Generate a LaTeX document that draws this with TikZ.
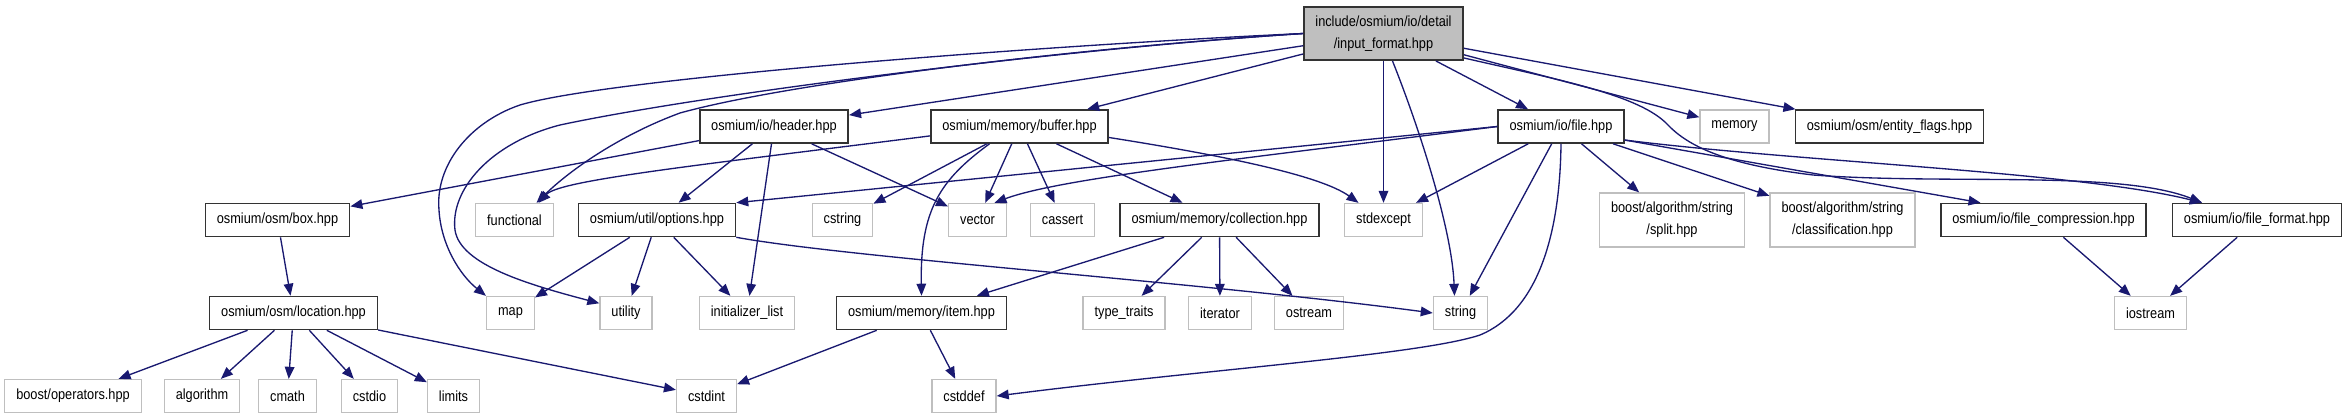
\documentclass[tikz,border=0pt]{standalone}
\usepackage{fontspec}
\newfontfamily\depfont{Liberation Sans}[FakeStretch=0.87]
\usetikzlibrary{arrows.meta,calc,positioning}
\definecolor{midnight}{HTML}{191970}
\definecolor{grey75}{HTML}{BFBFBF}

\begin{document}
\begin{tikzpicture}[->, >={Triangle[length=9pt,width=7.2pt]}, color=midnight, line width=1pt, x=0.75pt, y=-0.75pt]
\tikzstyle{hdr} = [draw=black!80, line width=1.2pt, fill=white, text=black, font=\depfont\fontsize{11pt}{16.25pt}\selectfont, minimum height=24.75pt, inner xsep=8.6pt, align=center]
\tikzstyle{sys} = [hdr, draw=grey75, line width=1pt]
\tikzstyle{mainfile} = [hdr, fill=grey75, minimum height=40pt]

\useasboundingbox (0,0) rectangle (2348,419);

\node [mainfile] (inputformat) at (1383.5,33.5) {include/osmium/io/detail\\/input\_format.hpp};

\node [hdr] (header) at (774,126.5) {osmium/io/header.hpp};
\draw (inputformat) -- (header);

\node [hdr] (buffer) at (1019.5,126.5) {osmium/memory/buffer.hpp};
\draw (inputformat) -- (buffer);

\node [hdr] (file) at (1561,126.5) {osmium/io/file.hpp};
\draw (inputformat) -- (file);

\node [sys] (memory) at (1734.5,126.5) {memory};
\draw (inputformat) -- (memory);

\node [hdr] (entityflags) at (1889.5,126.5) {osmium/osm/entity\_flags.hpp};
\draw (inputformat) -- (entityflags);

% second row
\node [hdr] (box) at (277.5,220) {osmium/osm/box.hpp};
\draw (header) -- (box);

\node [sys] (functional) at (514.5,220) {functional};
\draw (inputformat.west) .. controls (1050,50) and (780,85) .. (680,113) .. controls (620,135) and (570,170) .. ($(functional.north)+(22,0)$);
\draw (buffer.186) .. controls (700,165) and (560,180) .. ($(functional.north)+(24,0)$);

\node [hdr] (options) at (657,220) {osmium/util/options.hpp};
\draw (header) -- (options);
\draw (file.west) -- (options.north east);

\node [sys] (cstring) at (842.5,220) {cstring};
\draw (buffer) -- (cstring);

\node [sys] (vector) at (977.5,220) {vector};
\draw (header) -- (vector);
\draw (buffer) -- (vector);
\draw (file.west) .. controls (1250,158) and (1060,178) .. ($(vector.north)+(17,0)$);

\node [sys] (cassert) at (1062.5,220) {cassert};
\draw (buffer) -- (cassert);

\node [hdr] (collection) at (1219.5,220) {osmium/memory/collection.hpp};
\draw (buffer) -- (collection);

\node [sys] (stdexcept) at (1383.5,220) {stdexcept};
\draw (inputformat) -- (stdexcept);
\draw (buffer.-7) .. controls (1220,155) and (1320,175) .. ($(stdexcept.north)+(-25,0)$);
\draw (file) -- (stdexcept);

\node [sys, minimum height=40.5pt] (split) at (1672,220) {boost/algorithm/string\\/split.hpp};
\draw (file) -- (split);

\node [sys, minimum height=40.5pt] (classification) at (1842.5,220) {boost/algorithm/string\\/classification.hpp};
\draw (file) -- (classification);

\node [hdr] (filecompression) at (2043.5,220) {osmium/io/file\_compression.hpp};
\draw (file.-12) -- ($(filecompression.north)+(-63,0)$);

\node [hdr] (fileformat) at (2257,220) {osmium/io/file\_format.hpp};
\draw ($(inputformat.south east)+(0,-3)$) .. controls (1560,80) and (1640,95) .. (1668,125) .. controls (1690,148) and (1730,165) .. (1813,175) .. controls (1950,185) and (2120,170) .. ($(fileformat.north)+(-55,0)$);
\draw (file.-12) .. controls (1800,162) and (2080,172) .. ($(fileformat.north)+(-55,0)$);

% third row
\node [hdr] (location) at (293.5,313) {osmium/osm/location.hpp};
\draw (box) -- (location);

\node [sys] (map) at (510.5,313) {map};
\draw (inputformat.west) .. controls (1050,45) and (610,78) .. (520,105) .. controls (470,122) and (435,165) .. (439,210) .. controls (441,245) and (460,275) .. (map.north west);
\draw (options) -- (map);

\node [sys] (utility) at (626,313) {utility};
\draw (inputformat.west) .. controls (1050,50) and (700,95) .. (560,125) .. controls (490,143) and (450,190) .. (455,230) .. controls (460,265) and (530,285) .. (utility.160);
\draw (options) -- (utility);

\node [sys] (initlist) at (747,313) {initializer\_list};
\draw (header) -- (initlist);
\draw (options) -- (initlist);

\node [hdr] (item) at (921.5,313) {osmium/memory/item.hpp};
\draw ($(buffer.south)+(-30,0)$) .. controls (940,180) and (920,210) .. (item.north);
\draw (collection) -- (item);

\node [sys] (typetraits) at (1124,313) {type\_traits};
\draw (collection) -- (typetraits);

\node [sys] (iterator) at (1220,313) {iterator};
\draw (collection) -- (iterator);

\node [sys] (ostream) at (1309,313) {ostream};
\draw (collection) -- (ostream);

\node [sys] (string) at (1460.5,313) {string};
\draw ($(inputformat.south)+(9,0)$) .. controls (1420,130) and (1452,230) .. ($(string.north)+(-6,0)$);
\draw (file) -- (string);
\draw (options.south east) .. controls (850,258) and (1200,282) .. (string.west);

\node [sys] (iostream) at (2150.5,313) {iostream};
\draw (filecompression) -- (iostream);
\draw (fileformat) -- (iostream);

% fourth row
\node [sys] (operators) at (73,396) {boost/operators.hpp};
\draw (location) -- (operators);

\node [sys] (algorithm) at (202,396) {algorithm};
\draw (location) -- (algorithm);

\node [sys] (cmath) at (287.5,396) {cmath};
\draw (location) -- (cmath);

\node [sys] (cstdio) at (369.5,396) {cstdio};
\draw (location) -- (cstdio);

\node [sys] (limits) at (453.5,396) {limits};
\draw (location) -- (limits);

\node [sys] (cstdint) at (706.5,396) {cstdint};
\draw (location) -- (cstdint);
\draw (item) -- (cstdint);

\node [sys] (cstddef) at (964,396) {cstddef};
\draw (item) -- (cstddef);
\draw (file.south) .. controls (1560,230) and (1540,310) .. (1480,335) .. controls (1420,355) and (1200,370) .. (cstddef.east);
\end{tikzpicture}
\end{document}
